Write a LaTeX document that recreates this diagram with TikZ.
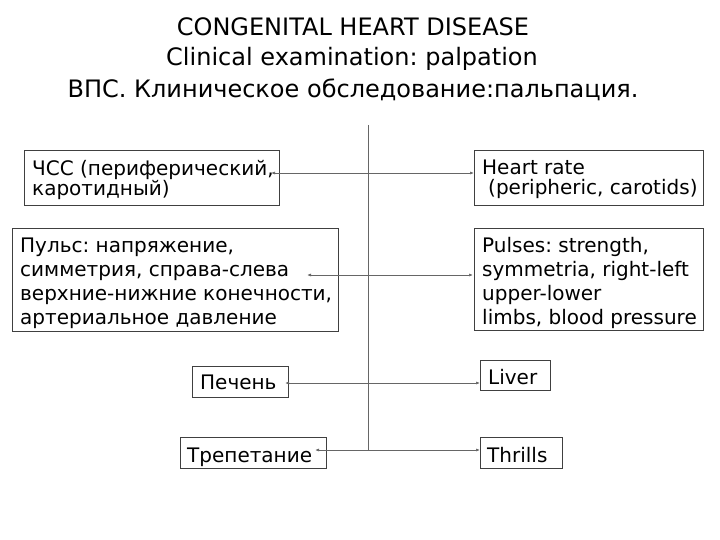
\documentclass[tikz,border=0pt]{standalone}
\usepackage{fontspec}
\setmainfont{DejaVu Sans}
\usetikzlibrary{arrows.meta}
\newcommand\mystrut{\rule{0pt}{16pt}}
\begin{document}
\frenchspacing
\begin{tikzpicture}[x=1pt,y=-1pt,
  box/.style={draw=black!75, line width=0.9pt, anchor=north west, inner sep=0pt},
  txt/.style={anchor=north west, inner sep=0pt, align=left, font=\fontsize{20}{20.5}\selectfont},
  txtb/.style={txt, font=\fontsize{20}{24}\selectfont},
  conn/.style={draw=black!60, line width=0.7pt, {Latex[length=4pt,width=3pt]}-{Latex[length=4pt,width=3pt]}},
  ttl/.style={font=\fontsize{24}{28}\selectfont, inner sep=0pt, anchor=base}]
\useasboundingbox (0,0) rectangle (720,540);
\node[ttl] (t1) at (353,36) {CONGENITAL HEART DISEASE};
\node[ttl] (t2) at (352,66) {Clinical examination: palpation};
\node[ttl] (t3) at (353,98) {ВПС. Клиническое обследование:пальпация.};

\node[box, minimum width=255, minimum height=55] (b1) at (24,150) {};
\node[txt] (b1t) at (32,175-16) {\mystrut ЧСС (периферический,\\каротидный)};
\node[box, minimum width=326, minimum height=103] (b2) at (12,228) {};
\node[txtb] (b2t) at (20,252-16) {\mystrut Пульс: напряжение,\\симметрия, справа-слева\\верхние-нижние конечности,\\артериальное давление};
\node[box, minimum width=229, minimum height=55] (b3) at (474,150) {};
\node[txt] (b3t) at (482,174-16) {\mystrut Heart rate\\\hspace*{6pt}(peripheric, carotids)};
\node[box, minimum width=229, minimum height=102] (b4) at (474,228) {};
\node[txtb] (b4t) at (482,252-16) {\mystrut Pulses: strength,\\symmetria, right-left\\upper-lower\\limbs, blood pressure};
\node[box, minimum width=96, minimum height=31] (b5) at (192,366) {};
\node[txt] (b5t) at (200,389-16) {\mystrut Печень};
\node[box, minimum width=70, minimum height=30] (b6) at (480,360) {};
\node[txt] (b6t) at (488,384-16) {\mystrut Liver};
\node[box, minimum width=146, minimum height=31] (b7) at (180,437) {};
\node[txt] (b7t) at (187,462-16) {\mystrut Трепетание};
\node[box, minimum width=82, minimum height=31] (b8) at (480,437) {};
\node[txt] (b8t) at (487,462-16) {\mystrut Thrills};

\coordinate (vtop) at (368,125);
\coordinate (vbot) at (368,450);
\draw[draw=black!60, line width=0.7pt] (vtop) -- (vbot);

\coordinate (a1l) at (271,173);
\coordinate (a1r) at (b3.west |- 0,173);
\draw[conn] (a1l) -- (a1r);
\coordinate (a2l) at (307,275);
\coordinate (a2r) at (473,275);
\draw[conn] (a2l) -- (a2r);
\coordinate (a3l) at (285,383);
\coordinate (a3r) at (b6.west |- 0,383);
\draw[conn] (a3l) -- (a3r);
\coordinate (a4l) at (315,450);
\coordinate (a4r) at (b8.west |- 0,450);
\draw[conn] (a4l) -- (a4r);
\end{tikzpicture}
\end{document}
